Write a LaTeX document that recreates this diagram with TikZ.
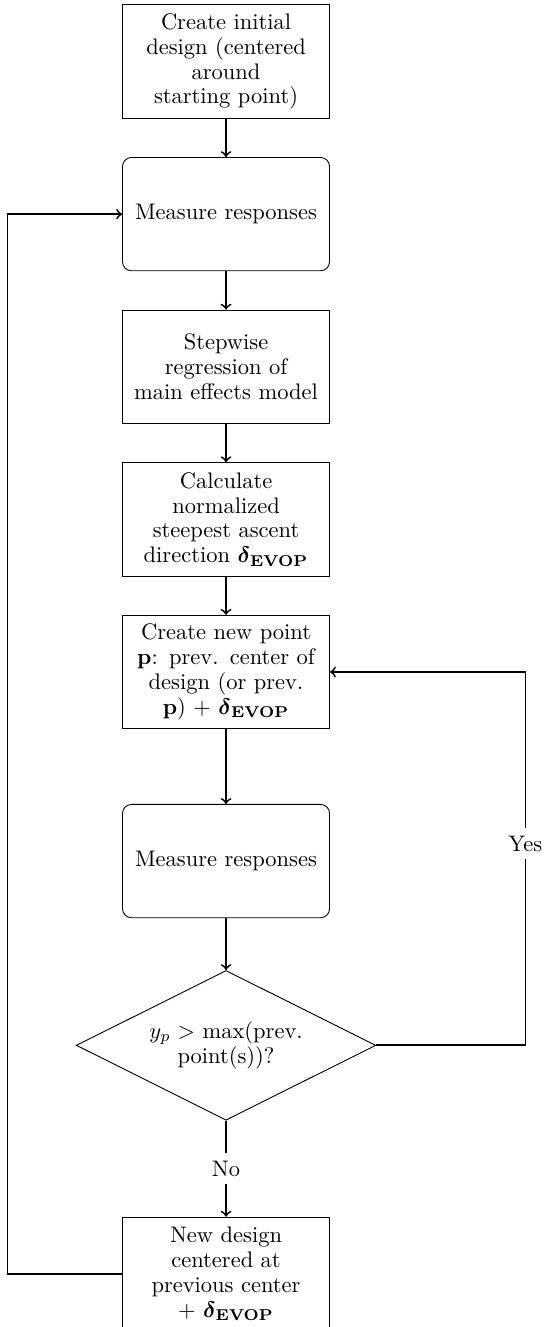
\documentclass[tikz,border=0pt]{standalone}
\usepackage{amsmath}
\usepackage{xcolor}
\usepackage{tikz}
\usetikzlibrary{shapes,arrows,positioning,calc}

\newcommand{\devop}{\boldsymbol{\delta}_{\mathbf{EVOP}}}
\newcommand{\boxfont}{\fontsize{10pt}{11pt}\selectfont\hyphenpenalty=10000\relax\exhyphenpenalty=10000\relax}

\begin{document}
\begin{tikzpicture}[
	stepbox/.style={draw, rectangle, font=\boxfont, text width=3cm, align=center, inner xsep=3.33pt, inner ysep=2.5pt, minimum height=1.77cm},
	measbox/.style={stepbox, rounded corners},
	decision/.style={draw, diamond, font=\boxfont, aspect=2, text width=2.5cm, align=center},
	flow/.style={draw, thick, ->}]
				\useasboundingbox (0,0) rectangle (8.5,-20.73);
				\node[stepbox] (init) at (3.531,-0.961) {Create initial design (centered around starting point)};
				\node[measbox, below=0.6cm of init] (meas1) {Measure responses};
				\node[stepbox, below=0.6cm of meas1] (regr) {Stepwise regression of main effects model};
				\node[stepbox, below=0.6cm of regr] (calc) {Calculate normalized steepest ascent direction $\devop$};
				\node[stepbox, below=0.6cm of calc] (newpt) {Create new point $\mathbf{p}$: prev. center of design (or prev. $\mathbf{p}$) + $\devop$};
				\node[measbox, below=1.17cm of newpt] (meas2) {Measure responses};
				\node[decision, below=0.81cm of meas2] (better) {$y_p >$ max(prev. point(s))?};
				\node[stepbox, below=1.5cm of better] (newdes) {New design centered at previous center + $\devop$};
				\path[flow] (init) -- (meas1);
				\path[flow] (meas1) -- (regr);
				\path[flow] (regr) -- (calc);
				\path[flow] (calc) -- (newpt);
				\path[flow] (newpt) -- (meas2);
				\path[flow] (meas2) -- (better);
				\path[flow] (better) -- node[fill=white] {No} (newdes);
				\path[flow] (better.east) -- ++(2.33,0) |- node[pos=0.27, fill=white] {Yes} (newpt.east);
				\path[flow] (newdes.west) -- ++(-1.79,0) |- (meas1.west);
			\end{tikzpicture}
\end{document}
